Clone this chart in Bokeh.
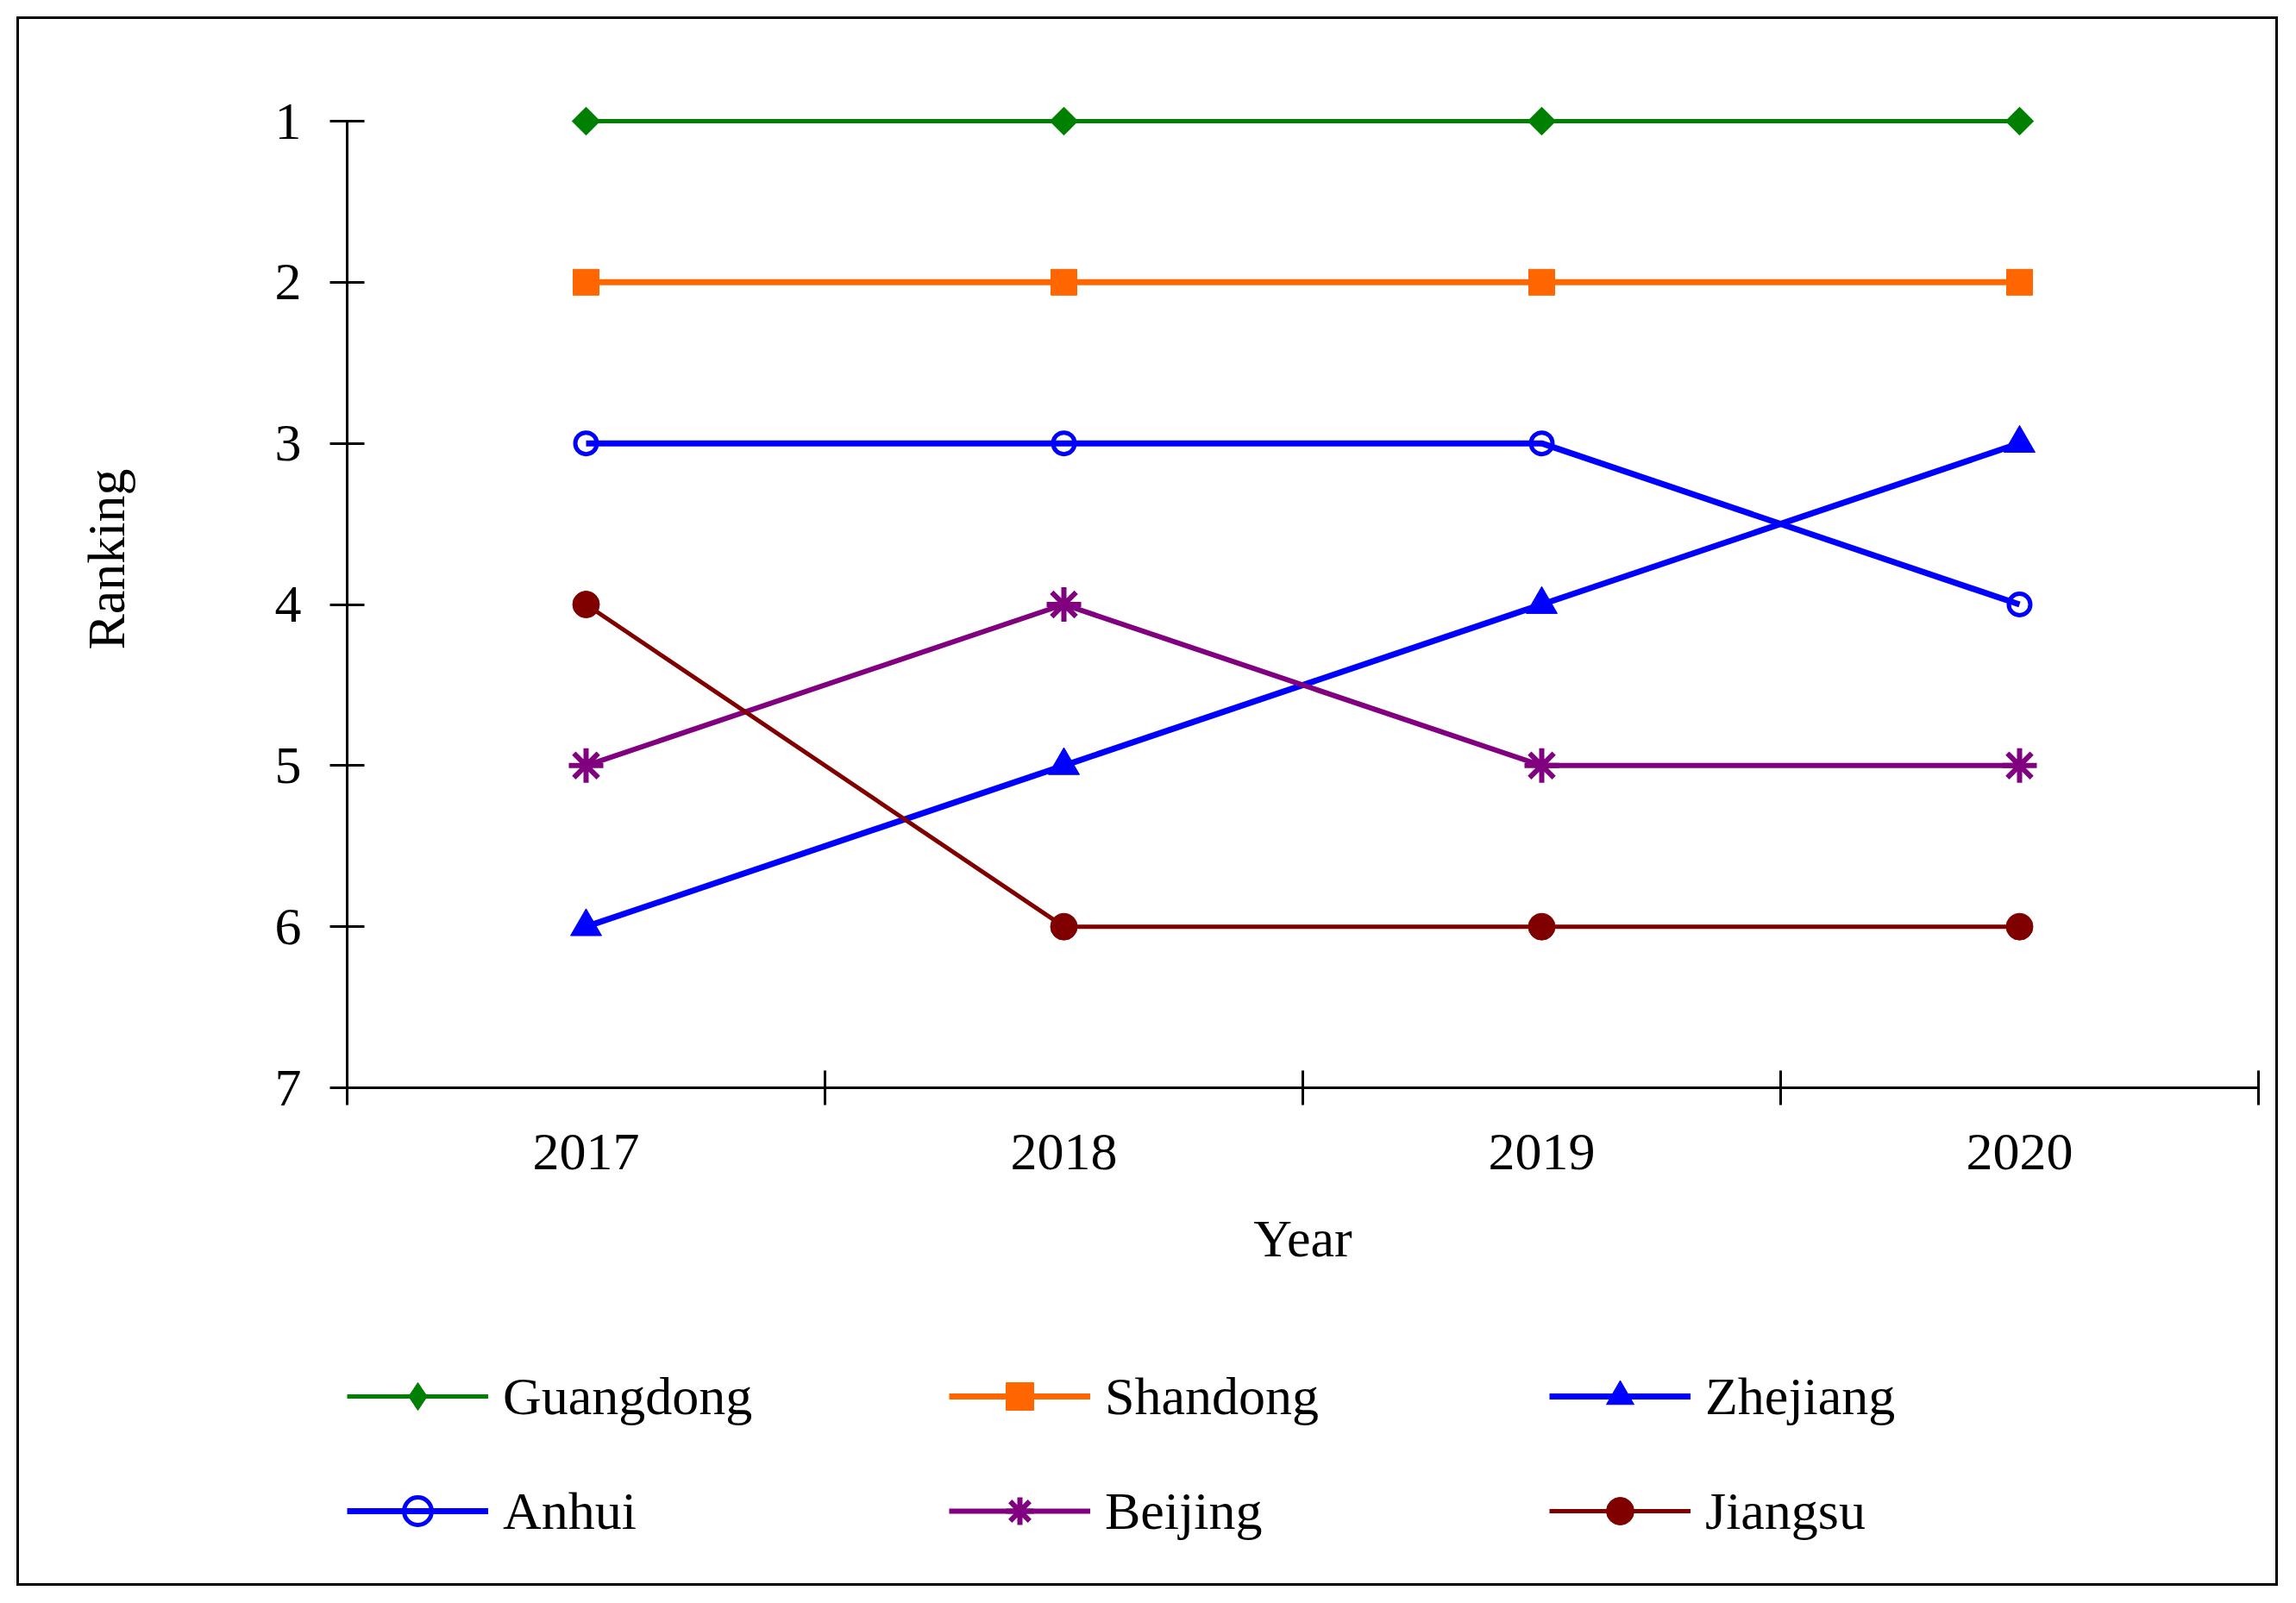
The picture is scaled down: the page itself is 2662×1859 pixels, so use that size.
import math
from bokeh.plotting import figure
from bokeh.layouts import column
from bokeh.models import Range1d, FixedTicker, Legend, LegendItem
from bokeh.embed import file_html
from bokeh.resources import INLINE

years = ["2017", "2018", "2019", "2020"]
xpos = [1, 2, 3, 4]
guangdong = [1, 1, 1, 1]
shandong = [2, 2, 2, 2]
zhejiang = [6, 5, 4, 3]
anhui = [3, 3, 3, 4]
beijing = [5, 4, 5, 5]
jiangsu = [4, 6, 6, 6]
y_ticks = [1, 2, 3, 4, 5, 6, 7]

FONT = "Liberation Serif"
FS = "62px"

# ---------- main chart ----------
p = figure(width=2616, height=1469, output_backend="svg", toolbar_location=None,
           x_range=Range1d(0.5, 4.5), y_range=Range1d(7, 0.438),
           min_border_left=380, min_border_right=20, min_border_top=13,
           min_border_bottom=230)
p.outline_line_color = None
p.grid.visible = False
p.background_fill_color = "white"
p.border_fill_color = "white"

# ---------- legend strip (uses the same series, drawn outside its visible range) ----------
pl = figure(width=2616, height=345, output_backend="svg", toolbar_location=None,
            x_range=Range1d(10, 11), y_range=Range1d(10, 11),
            x_axis_location=None, y_axis_location=None, min_border=0)
pl.outline_line_color = None
pl.grid.visible = False
pl.background_fill_color = "white"
pl.border_fill_color = "white"

series = [
    ("Guangdong", guangdong, "#008000", 5, dict(marker="diamond", size=30)),
    ("Shandong", shandong, "#FF6600", 7, dict(marker="square", size=30)),
    ("Zhejiang", zhejiang, "#0000FF", 7, dict(marker="triangle", size=36)),
    ("Anhui", anhui, "#0000FF", 7, dict(marker="circle", size=25, fill_alpha=0, line_width=5)),
    ("Beijing", beijing, "#800080", 6, dict(marker="asterisk", size=40, line_width=6)),
    ("Jiangsu", jiangsu, "#800000", 5, dict(marker="circle", size=31)),
]

items = {}
for name, vals, col, lw, mk in series:
    kw = dict(mk)
    kw.setdefault("line_width", 1)
    p.line(xpos, vals, line_color=col, line_width=lw)
    if name == "Guangdong":
        p.scatter(xpos, vals, marker="square", size=23, angle=math.pi / 4,
                  color=col, line_width=1)
    else:
        p.scatter(xpos, vals, color=col, **kw)
    l1 = pl.line(xpos, vals, line_color=col, line_width=lw)
    l2 = pl.scatter(xpos, vals, color=col, **kw)
    items[name] = LegendItem(label=name, renderers=[l1, l2])

# axes
xa = p.xaxis[0]
xa.ticker = FixedTicker(ticks=xpos, minor_ticks=[0.5, 1.5, 2.5, 3.5, 4.5])
xa.major_label_overrides = {x: y for x, y in zip(xpos, years)}
xa.major_tick_line_color = None
xa.minor_tick_in = 20
xa.minor_tick_out = 20
xa.minor_tick_line_width = 3
xa.axis_line_width = 3
xa.axis_label = "Year"

ya = p.yaxis[0]
ya.ticker = FixedTicker(ticks=y_ticks)
ya.bounds = (1, 7)
ya.major_tick_in = 20
ya.major_tick_out = 20
ya.major_tick_line_width = 3
ya.minor_tick_line_color = None
ya.axis_line_width = 3
ya.axis_label = "Ranking"

for ax in (xa, ya):
    ax.major_label_text_font = FONT
    ax.major_label_text_font_size = FS
    ax.major_label_text_color = "black"
    ax.axis_label_text_font = FONT
    ax.axis_label_text_font_size = FS
    ax.axis_label_text_font_style = "normal"
    ax.axis_label_text_color = "black"
    ax.axis_line_color = "black"

xa.major_label_standoff = 34
xa.axis_label_standoff = 43
ya.major_label_standoff = 33
ya.axis_label_standoff = 159

legend_cols = [["Guangdong", "Anhui"], ["Shandong", "Beijing"], ["Zhejiang", "Jiangsu"]]
legend_x = [0, 698, 1394]
for names, lx in zip(legend_cols, legend_x):
    lg = Legend(items=[items[n] for n in names], orientation="vertical",
                glyph_width=164, glyph_height=80, label_standoff=17,
                label_height=70, spacing=53, padding=6, margin=0,
                border_line_color=None, background_fill_alpha=0,
                label_text_font=FONT, label_text_font_size=FS,
                label_text_color="black", location=(lx, 44))
    pl.add_layout(lg, "center")

layout = column(p, pl, spacing=0,
                styles={"outline": "3px solid black", "margin-left": "22px",
                        "margin-top": "22px"})

open("out.html", "w").write(file_html(layout, INLINE))
